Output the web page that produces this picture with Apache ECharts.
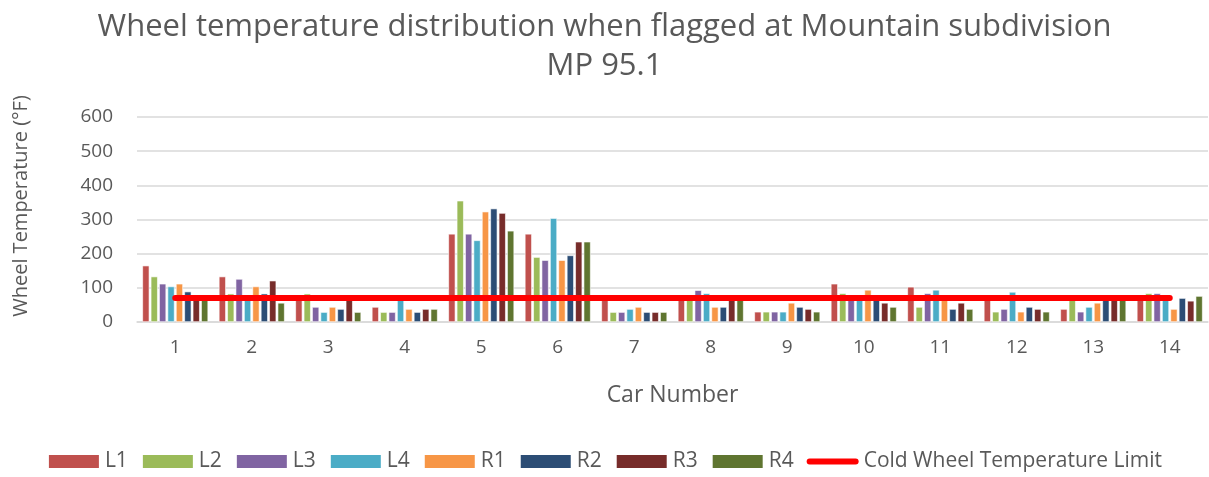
<!DOCTYPE html>
<html>
<head>
<meta charset="utf-8">
<script src="https://cdn.jsdelivr.net/npm/echarts@6/dist/echarts.min.js"></script>
<style>
  html, body { margin: 0; padding: 0; background: #fff; }
  #chart { width: 1209px; height: 477px; }
</style>
</head>
<body>
<div id="chart"></div>
<script>
const cars = ["1", "2", "3", "4", "5", "6", "7", "8", "9", "10", "11", "12", "13", "14"];
const L1 = [165, 133, 68, 44, 258, 258, 68, 68, 30, 112, 103, 68, 38, 68];
const L2 = [133, 83, 83, 29, 355, 190, 29, 68, 30, 84, 44, 30, 68, 84];
const L3 = [112, 126, 44, 29, 258, 181, 29, 93, 30, 68, 84, 38, 30, 84];
const L4 = [104, 68, 29, 68, 239, 304, 38, 84, 30, 68, 94, 88, 44, 68];
const R1 = [112, 104, 44, 38, 323, 181, 44, 44, 56, 94, 68, 30, 56, 38];
const R2 = [89, 83, 38, 29, 332, 195, 29, 44, 44, 68, 38, 44, 68, 70];
const R3 = [68, 121, 68, 38, 319, 235, 29, 68, 38, 56, 56, 38, 68, 62];
const R4 = [68, 56, 29, 38, 267, 235, 29, 68, 30, 44, 38, 30, 68, 76];
const coldLimit = [70, 70, 70, 70, 70, 70, 70, 70, 70, 70, 70, 70, 70, 70];

const barNames = ["L1", "L2", "L3", "L4", "R1", "R2", "R3", "R4"];
const barData = [L1, L2, L3, L4, R1, R2, R3, R4];
const barColors = ["#C0504D", "#9BBB59", "#8064A2", "#4BACC6", "#F79646", "#2C4D75", "#772C2A", "#5F7530"];

const font = "Open Sans";
const grey = "#595959";

const series = barNames.map((name, i) => ({
  name: name,
  type: "bar",
  data: barData[i],
  barGap: "20%",
  barCategoryGap: "14%",
  itemStyle: { color: barColors[i], borderColor: "#fff", borderWidth: 0.6 },
}));
series.push({
  name: "Cold Wheel Temperature Limit",
  type: "line",
  data: coldLimit,
  symbol: "none",
  z: 10,
  lineStyle: { color: "#FF0000", width: 6, cap: "round" },
  itemStyle: { color: "#FF0000" },
});

const myChart = echarts.init(document.getElementById("chart"));
const option = {
  animation: false,
  textStyle: { fontFamily: font },
  title: {
    text: "Wheel temperature distribution when flagged at Mountain subdivision\nMP 95.1",
    left: "center",
    top: 3,
    textStyle: { fontFamily: font, fontSize: 31, fontWeight: "normal", color: grey, lineHeight: 39 },
  },
  legend: {
    bottom: 0,
    left: "center",
    itemWidth: 52,
    itemHeight: 15,
    itemGap: 13,
    textStyle: { fontFamily: font, fontSize: 21, color: grey },
    data: barNames
      .map((n) => ({ name: n, icon: "rect" }))
      .concat([{ name: "Cold Wheel Temperature Limit", icon: "path://M3,0 L49,0 A3,3 0 0 1 49,6 L3,6 A3,3 0 0 1 3,0 Z" }]),
  },
  grid: { left: 137, right: 1, top: 117, bottom: 155 },
  xAxis: {
    type: "category",
    data: cars,
    name: "Car Number",
    nameLocation: "middle",
    nameGap: 62,
    nameTextStyle: { fontFamily: font, fontSize: 23, color: grey },
    axisLine: { lineStyle: { color: "#d9d9d9", width: 1.5 } },
    axisTick: { show: false },
    axisLabel: { fontFamily: font, fontSize: 19, color: grey, margin: 16 },
  },
  yAxis: {
    type: "value",
    min: 0,
    max: 600,
    interval: 100,
    name: "Wheel Temperature (°F)",
    nameLocation: "middle",
    nameGap: 106,
    nameTextStyle: { fontFamily: font, fontSize: 20, color: grey, padding: [0, 0, 0, 27] },
    axisLine: { show: false },
    axisTick: { show: false },
    axisLabel: { fontFamily: font, fontSize: 19, color: grey, margin: 24 },
    splitLine: { lineStyle: { color: "#d9d9d9", width: 1.5 } },
  },
  series: series,
};
myChart.setOption(option);
window.addEventListener("resize", () => {
  myChart.resize();
});
</script>
</body>
</html>
